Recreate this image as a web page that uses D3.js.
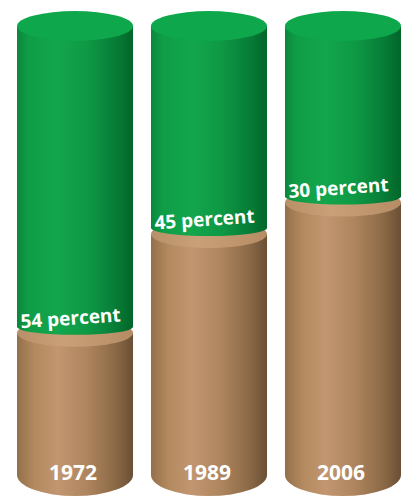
<!DOCTYPE html>
<html>
<head>
<meta charset="utf-8">
<script src="https://cdn.jsdelivr.net/npm/d3@7"></script>
<style>
  body { margin: 0; background: #fff; }
  text { font-family: "Open Sans", sans-serif; font-weight: 700; fill: #fff; }
</style>
</head>
<body>
<svg id="chart" width="408" height="498"></svg>
<script>
// values
const years = ['1972', '1989', '2006'];
const percents = [54, 45, 30];
// height of the brown part as drawn, in % of the cylinder
const tanLevel = [33, 55, 62];

const svg = d3.select('#chart');

const x = d3.scaleBand()
  .domain(years)
  .range([17, 401])
  .paddingInner(0.134)
  .paddingOuter(0);

const y = d3.scaleLinear()
  .domain([0, 100])
  .range([475, 26]);

const rx = x.bandwidth() / 2;
const ryTop = 15, ryBottom = 21, ryMid = 8, ryFace = 14, faceDrop = 6;

const defs = svg.append('defs');
function grad(id, stops) {
  const g = defs.append('linearGradient').attr('id', id)
    .attr('x1', 0).attr('x2', 1).attr('y1', 0).attr('y2', 0);
  stops.forEach(s => g.append('stop').attr('offset', s[0]).attr('stop-color', s[1]));
}
grad('greenSide', [[0, '#0b873d'], [0.1, '#0f9d47'], [0.35, '#13a64c'], [0.6, '#0e9945'], [0.85, '#077d37'], [1, '#02652a']]);
grad('tanSide', [[0, '#93704a'], [0.15, '#b38a5f'], [0.35, '#c29670'], [0.6, '#ae855e'], [0.85, '#8b6946'], [1, '#6a4f35']]);
grad('tanFace', [[0, '#b89068'], [0.4, '#c9a078'], [1, '#b58c64']]);

const data = years.map((d, i) => ({ year: d, pct: percents[i], level: tanLevel[i] }));

const cyl = svg.selectAll('g.cyl')
  .data(data)
  .enter()
  .append('g')
  .attr('class', 'cyl');

// brown lower body
cyl.append('path')
  .attr('fill', 'url(#tanSide)')
  .attr('d', d => {
    const l = x(d.year), r = l + 2 * rx, yt = y(d.level) + faceDrop, yb = y(0);
    return `M${l},${yt} L${l},${yb} A${rx},${ryBottom} 0 0 0 ${r},${yb} L${r},${yt} Z`;
  });

// brown top face
cyl.append('ellipse')
  .attr('fill', 'url(#tanFace)')
  .attr('cx', d => x(d.year) + rx)
  .attr('cy', d => y(d.level) + faceDrop)
  .attr('rx', rx)
  .attr('ry', ryFace);

// green upper body
cyl.append('path')
  .attr('fill', 'url(#greenSide)')
  .attr('d', d => {
    const l = x(d.year), r = l + 2 * rx, yt = y(100), yb = y(d.level);
    return `M${l},${yt} L${l},${yb} A${rx},${ryMid} 0 0 0 ${r},${yb} L${r},${yt} Z`;
  });

// green top face
cyl.append('ellipse')
  .attr('fill', '#0ea74b')
  .attr('cx', d => x(d.year) + rx)
  .attr('cy', y(100))
  .attr('rx', rx)
  .attr('ry', ryTop);

cyl.append('text')
  .attr('text-anchor', 'middle')
  .attr('font-size', 19)
  .attr('transform', d => `translate(${x(d.year) + rx - 4},${y(d.level) - 2}) rotate(-4)`)
  .text(d => `${d.pct} percent`);

cyl.append('text')
  .attr('text-anchor', 'middle')
  .attr('font-size', 21)
  .attr('x', d => x(d.year) + rx - 2)
  .attr('y', 480)
  .text(d => d.year);
</script>
</body>
</html>
